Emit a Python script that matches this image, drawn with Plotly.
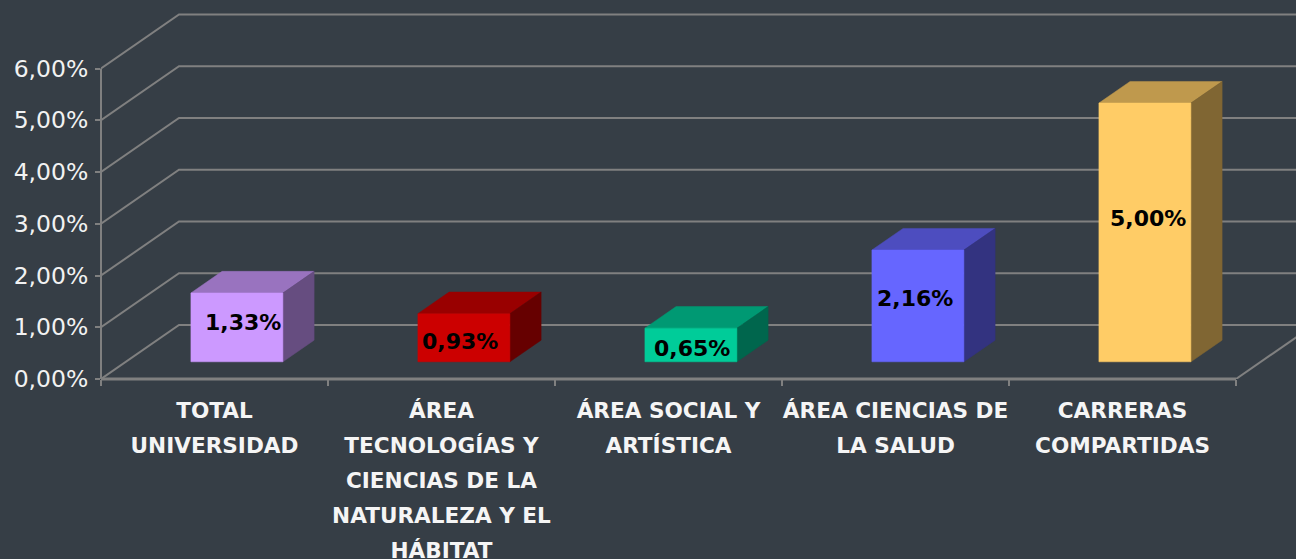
import plotly.graph_objects as go

categories = [
    ["TOTAL", "UNIVERSIDAD"],
    ["ÁREA", "TECNOLOGÍAS Y", "CIENCIAS DE LA", "NATURALEZA Y EL", "HÁBITAT"],
    ["ÁREA SOCIAL Y", "ARTÍSTICA"],
    ["ÁREA CIENCIAS DE", "LA SALUD"],
    ["CARRERAS", "COMPARTIDAS"],
]
values = [1.33, 0.93, 0.65, 2.16, 5.00]
y_ticks = [0, 1, 2, 3, 4, 5, 6]

front_colors = ["#CC99FF", "#CC0000", "#00CC99", "#6666FF", "#FFCC66"]
top_colors = ["#9973BF", "#990000", "#009973", "#4D4DBF", "#BF994D"]
side_colors = ["#664D80", "#660000", "#00664D", "#333380", "#806633"]
label_nudge_px = [(5, 6), (-5, -3), (0, -3), (-4, 8), (2, 15)]

BG = "#363E46"
GRID = "#808080"
FIG_W, FIG_H = 1296, 559
LEFT, FLOOR_PX = 101, 379
CAT_PX, UNIT_PX = 227.0, 51.75
DX, DY = 78 / CAT_PX, 54 / UNIT_PX
D0, D1 = 0.30, 0.70
HALF_W = 46 / CAT_PX
BAR_SHIFT_X, BAR_LIFT = -1 / CAT_PX, 1 / UNIT_PX
n = len(values)
x_min, x_max = -0.5, -0.5 + (FIG_W - LEFT) / CAT_PX
x_end = n - 0.5


def proj(x, v, d):
    return x + d * DX, v + d * DY


def poly(points, color):
    xs, ys = zip(*points)
    return go.Scatter(x=list(xs) + [xs[0]], y=list(ys) + [ys[0]], mode="lines", fill="toself",
                      fillcolor=color, line=dict(color=color, width=0.5),
                      hoverinfo="skip", showlegend=False)


fig = go.Figure()

# Walls and floor
for t in y_ticks:
    a, b, c = proj(x_min, t, 0), proj(x_min, t, 1), proj(x_end, t, 1)
    fig.add_trace(go.Scatter(x=[a[0], b[0], c[0]], y=[a[1], b[1], c[1]], mode="lines",
                             line=dict(color=GRID, width=2), hoverinfo="skip", showlegend=False))
a, b = proj(x_end, 0, 0), proj(x_end, 0, 1)
fig.add_trace(go.Scatter(x=[a[0], b[0]], y=[a[1], b[1]], mode="lines",
                         line=dict(color=GRID, width=2), hoverinfo="skip", showlegend=False))

# 3D bars
annotations = []
for i, v in enumerate(values):
    l, r = i - HALF_W + BAR_SHIFT_X, i + HALF_W + BAR_SHIFT_X
    lo, hi = BAR_LIFT, v + BAR_LIFT
    fig.add_trace(poly([proj(l, hi, D0), proj(r, hi, D0), proj(r, hi, D1), proj(l, hi, D1)], top_colors[i]))
    fig.add_trace(poly([proj(r, lo, D0), proj(r, hi, D0), proj(r, hi, D1), proj(r, lo, D1)], side_colors[i]))
    fig.add_trace(poly([proj(l, lo, D0), proj(r, lo, D0), proj(r, hi, D0), proj(l, hi, D0)], front_colors[i]))
    cx, cy = proj(i, v / 2, D0)
    annotations.append(dict(x=cx, y=cy, xref="x", yref="y", text=f"{v:.2f}%".replace(".", ","),
                            showarrow=False, xshift=label_nudge_px[i][0], yshift=label_nudge_px[i][1],
                            font=dict(family="DejaVu Sans", size=22, color="#000000", weight="bold")))

shapes = [
    dict(type="line", xref="paper", yref="y", x0=0, x1=0, y0=y_ticks[0], y1=y_ticks[-1],
         line=dict(color=GRID, width=2), layer="above"),
    dict(type="line", xref="x", yref="paper", x0=x_min, x1=x_end, y0=0, y1=0,
         line=dict(color=GRID, width=3), layer="above"),
]


def tick_label(lines):
    return "<br>".join(f'<span style="font-size:21.6px">{s}</span>' for s in lines)


fig.update_layout(
    width=FIG_W, height=FIG_H,
    paper_bgcolor=BG, plot_bgcolor=BG,
    margin=dict(l=LEFT, r=0, t=0, b=FIG_H - FLOOR_PX, pad=0),
    showlegend=False,
    shapes=shapes,
    annotations=annotations,
    xaxis=dict(
        range=[x_min, x_max], showgrid=False, zeroline=False, showline=False,
        tickmode="array", tickvals=list(range(n)), ticktext=[tick_label(c) for c in categories],
        ticks="", tickangle=0, automargin=False, ticklabelstandoff=11,
        tickfont=dict(family="DejaVu Sans", size=27, color="#F5F5F5", weight="bold"),
        minor=dict(tickmode="array", tickvals=[k - 0.5 for k in range(n + 1)], ticks="outside",
                   ticklen=6, tickwidth=2, tickcolor=GRID, showgrid=False),
    ),
    yaxis=dict(
        range=[0, FLOOR_PX / UNIT_PX], showgrid=False, zeroline=False, showline=False,
        tickmode="array", tickvals=y_ticks,
        ticktext=[f"{t:.2f}%".replace(".", ",") for t in y_ticks],
        ticks="outside", ticklen=5, tickwidth=2, tickcolor=GRID, automargin=False,
        ticklabelstandoff=2,
        tickfont=dict(family="DejaVu Sans", size=23.5, color="#F2F2F2"),
    ),
)

fig.write_html("out.html", config={"displayModeBar": False},
               post_script="document.body.style.margin='0';document.body.style.background='%s';" % BG)
